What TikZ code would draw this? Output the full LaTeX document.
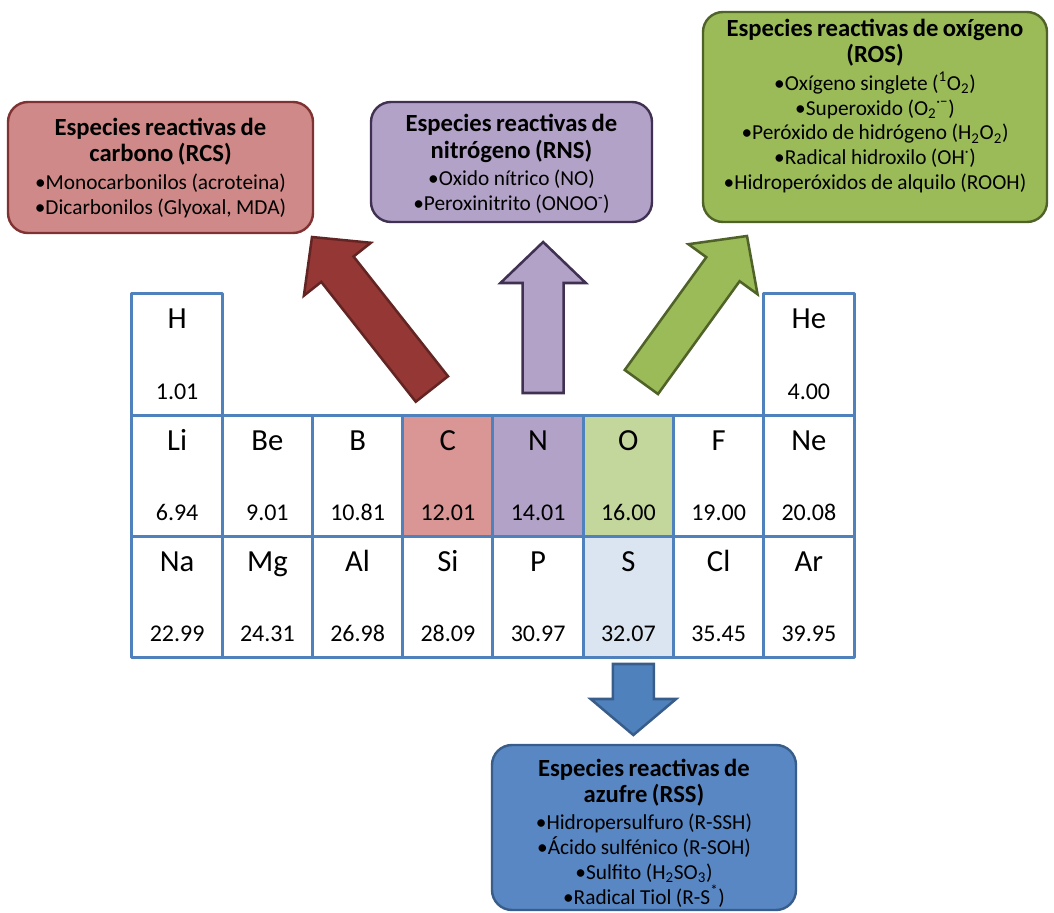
\documentclass[tikz,border=0pt]{standalone}
\usepackage{fontspec}
\setmainfont{Carlito}
\usetikzlibrary{calc}
\definecolor{tblue}{RGB}{79,129,189}
\definecolor{cfill}{RGB}{217,150,148}
\definecolor{nfill}{RGB}{179,162,199}
\definecolor{ofill}{RGB}{195,214,155}
\definecolor{sfill}{RGB}{219,229,241}
\definecolor{rcsfill}{RGB}{207,137,136}
\definecolor{rcsline}{RGB}{128,50,50}
\definecolor{rnsfill}{RGB}{178,162,199}
\definecolor{rnsline}{RGB}{64,49,82}
\definecolor{rosfill}{RGB}{155,187,89}
\definecolor{rosline}{RGB}{79,98,40}
\definecolor{rssfill}{RGB}{88,135,195}
\definecolor{rssline}{RGB}{56,93,138}
\definecolor{redarrow}{RGB}{149,55,53}
\definecolor{redline}{RGB}{99,37,35}
\definecolor{bluearrow}{RGB}{79,129,189}
\newcommand{\titlef}{\fontsize{18.5}{19.75}\selectfont\bfseries}
\newcommand{\itemf}{\par\vspace{2pt}\fontsize{16}{18.6}\selectfont\mdseries}
% block arrow: [head length]{tail}{tip}{fill}{line}
\newcommand{\blockarrow}[5][30.75pt]{%
  \path let \p1=($(#3)-(#2)$) in
    \pgfextra{\pgfmathparse{atan2(\y1,\x1)}\xdef\arrang{\pgfmathresult}%
      \pgfmathparse{veclen(\x1,\y1)}\xdef\arrlen{\pgfmathresult}};
  \draw[fill=#4, draw=#5, line width=1.9pt, line join=miter, shift={(#2)}, rotate=\arrang]
    (0pt,-15.4pt) -- ({\arrlen pt-#1},-15.4pt) -- ({\arrlen pt-#1},-32pt) -- (\arrlen pt,0pt)
    -- ({\arrlen pt-#1},32pt) -- ({\arrlen pt-#1},15.4pt) -- (0pt,15.4pt) -- cycle;
}
\begin{document}
\begin{tikzpicture}[x=0.75pt, y=-0.75pt, line join=round]
	\tikzset{cell/.style={draw=tblue, line width=2.25pt, minimum width=67.7pt, minimum height=90.75pt, inner sep=0pt, outer sep=0pt},
		sym/.style={anchor=base, font=\fontsize{23}{27}\selectfont},
		mass/.style={anchor=base, font=\fontsize{18}{21}\selectfont},
		box/.style={rounded corners=15pt, line width=1.8pt, inner sep=0pt, outer sep=0pt},
		boxtext/.style={text width=#1, align=center, inner sep=0pt}}
	\useasboundingbox (0,0) rectangle (1054,913);
	\foreach \s/\m/\c/\r/\f in {H/1.01/0/0/white, He/4.00/7/0/white,
		Li/6.94/0/1/white, Be/9.01/1/1/white, B/10.81/2/1/white, C/12.01/3/1/cfill,
		N/14.01/4/1/nfill, O/16.00/5/1/ofill, F/19.00/6/1/white, Ne/20.08/7/1/white,
		Na/22.99/0/2/white, Mg/24.31/1/2/white, Al/26.98/2/2/white, Si/28.09/3/2/white,
		P/30.97/4/2/white, S/32.07/5/2/sfill, Cl/35.45/6/2/white, Ar/39.95/7/2/white}{
		\node[cell, fill=\f] (\s) at ({132+90.25*(\c+0.5)},{294+121*(\r+0.5)}) {};
		\node[sym] (sym\s) at ([yshift=-26.25pt]\s.north) {\s};
		\node[mass] (mass\s) at ([yshift=-78.75pt]\s.north) {\m};
	}
	\node[box, fill=rcsfill, draw=rcsline, minimum width=228.75pt, minimum height=98.25pt] (rcs) at (160.5,167.5) {};
	\node[boxtext=228pt] (rcstext) at (160.5,168) {\titlef Especies reactivas de\\ carbono (RCS)
		\itemf •Monocarbonilos (acroteina)\\ •Dicarbonilos (Glyoxal, MDA)\par};
	\node[box, fill=rnsfill, draw=rnsline, minimum width=210.75pt, minimum height=90pt] (rns) at (511.5,162) {};
	\node[boxtext=208pt] (rnstext) at (511.5,164) {\titlef Especies reactivas de\\ nitrógeno (RNS)
		\itemf •Oxido nítrico (NO)\\ •Peroxinitrito (ONOO\textsuperscript{-})\par};
	\node[box, fill=rosfill, draw=rosline, minimum width=258pt, minimum height=157.5pt] (ros) at (875,117) {};
	\node[boxtext=258pt] (rostext) at (875,106) {\titlef Especies reactivas de oxígeno\\ (ROS)
		\itemf •Oxígeno singlete (\textsuperscript{1}O\textsubscript{2})\\ •Superoxido (O\textsubscript{2}\textsuperscript{·−})\\
		•Peróxido de hidrógeno (H\textsubscript{2}O\textsubscript{2})\\ •Radical hidroxilo (OH\textsuperscript{·})\\
		•Hidroperóxidos de alquilo (ROOH)\par};
	\node[box, fill=rssfill, draw=rssline, minimum width=228pt, minimum height=123.75pt] (rss) at (644,827.5) {};
	\node[boxtext=228pt] (rsstext) at (644,833) {\titlef Especies reactivas de\\ azufre (RSS)
		\itemf •Hidropersulfuro (R-SSH)\\ •Ácido sulfénico (R-SOH)\\ •Sulfito (H\textsubscript{2}SO\textsubscript{3})\\
		•Radical Tiol (R-S\textsuperscript{*})\par};
	\coordinate (ctail) at ($(C.north)+(-16,-26)$);
	\coordinate (ctip) at ($(rcs.south east)+(-1,4)$);
	\coordinate (ntail) at ($(N.north)+(5,-22)$);
	\coordinate (ntip) at ($(N.north)+(5,-173)$);
	\coordinate (otail) at ($(O.north)+(13,-33)$);
	\coordinate (otip) at ($(ros.south west)+(44,14)$);
	\coordinate (stail) at ($(S.south)+(5,7)$);
	\coordinate (stip) at ($(S.south)+(5,78)$);
	\blockarrow{ctail}{ctip}{redarrow}{redline}
	\blockarrow{ntail}{ntip}{rnsfill}{rnsline}
	\blockarrow{otail}{otip}{rosfill}{rosline}
	\blockarrow[27pt]{stail}{stip}{bluearrow}{rssline}
\end{tikzpicture}
\end{document}
